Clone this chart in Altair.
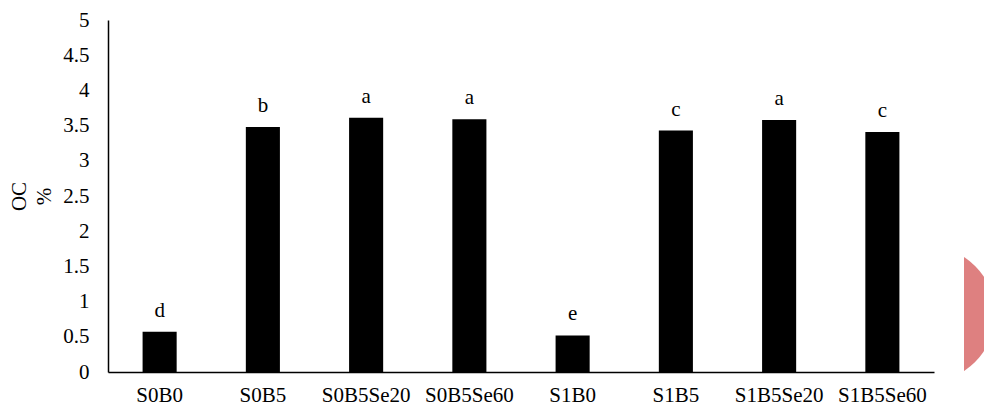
import altair as alt
import pandas as pd

categories = ["S0B0", "S0B5", "S0B5Se20", "S0B5Se60", "S1B0", "S1B5", "S1B5Se20", "S1B5Se60"]
oc_values = [0.57, 3.48, 3.61, 3.59, 0.52, 3.43, 3.58, 3.41]
letters = ["d", "b", "a", "a", "e", "c", "a", "c"]
y_ticks = [0, 0.5, 1, 1.5, 2, 2.5, 3, 3.5, 4, 4.5, 5]

df = pd.DataFrame({"cat": categories, "oc": oc_values, "letter": letters})

FONT = "Liberation Serif"

x_axis = alt.Axis(
    title=None, labelAngle=0, ticks=False, labelPadding=12,
    labelFont=FONT, labelFontSize=21, labelColor="#000",
    domainColor="#000", domainWidth=1.5, zindex=1,
)
y_axis = alt.Axis(
    title=["OC", "%"], titleAngle=-90, titleFont=FONT, titleFontSize=21,
    titleFontWeight="normal", titleColor="#000", titleLineHeight=25,
    titleX=-89, titleY=176, titleAlign="center", titleBaseline="middle",
    values=y_ticks, labelExpr="format(datum.value, '.1~f')", ticks=False, grid=False,
    labelPadding=19, labelOverlap=False, labelFlush=False,
    labelFont=FONT, labelFontSize=21, labelColor="#000",
    domainColor="#000", domainWidth=1.5, zindex=1,
)
x_scale = alt.Scale(paddingInner=0.67, paddingOuter=0.335)
y_scale = alt.Scale(domain=[0, 5], nice=False)

deco_df = pd.DataFrame({"k": [1]})
deco = alt.Chart(deco_df).mark_arc(
    color="#DE8080", innerRadius=0, outerRadius=68, theta=0, theta2=6.2832
).encode(x=alt.value(819), y=alt.value(294))
mask = alt.Chart(deco_df).mark_rect(color="white").encode(
    x=alt.value(745), x2=alt.value(856), y=alt.value(220), y2=alt.value(366)
)

bars = alt.Chart(df).mark_bar(color="#000").encode(
    x=alt.X("cat:N", sort=categories, scale=x_scale, axis=x_axis),
    y=alt.Y("oc:Q", scale=y_scale, axis=y_axis),
)

labels = alt.Chart(df).mark_text(
    font=FONT, fontSize=21, color="#000", baseline="alphabetic", dy=-15
).encode(
    x=alt.X("cat:N", sort=categories, scale=x_scale, axis=x_axis),
    y=alt.Y("oc:Q", scale=y_scale, axis=y_axis),
    text="letter:N",
)

chart = (
    alt.layer(deco, mask, bars, labels)
    .properties(
        width=826, height=352,
        background="white",
        autosize=alt.AutoSizeParams(type="none"),
        padding={"left": 100, "top": 12, "right": 50, "bottom": 34},
    )
    .configure_view(strokeWidth=0, stroke="transparent")
    .configure_axisY(labelOverlap=False)
)

chart.save("out.html", embed_options={"renderer": "svg", "actions": False})
